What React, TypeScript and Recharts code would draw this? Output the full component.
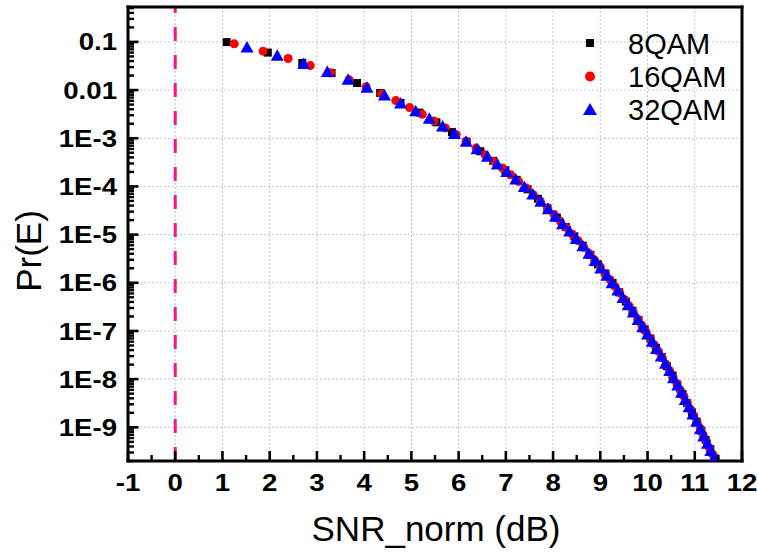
import { ScatterChart, Scatter, XAxis, YAxis, ReferenceLine, Legend } from "recharts";

const FONT = "Arial, 'Liberation Sans', Helvetica, sans-serif";

// 8QAM (black squares)
const snr8 = [
  1.09, 1.96, 2.69, 3.31, 3.85, 4.34, 4.77, 5.17, 5.53, 5.86,
  6.17, 6.46, 6.73, 6.99, 7.23, 7.46, 7.68, 7.88, 8.08, 8.27,
  8.45, 8.63, 8.79, 8.95, 9.11, 9.26, 9.4, 9.54, 9.68, 9.81,
  9.94, 10.06, 10.18, 10.3, 10.41, 10.53, 10.63, 10.74, 10.84, 10.94,
  11.04, 11.14, 11.23, 11.33, 11.42,
];
const pe8 = [
  0.099, 0.06, 0.0367, 0.0225, 0.014, 0.00868, 0.00542, 0.0034, 0.00214, 0.00134,
  8.5e-4, 5.37e-4, 3.4e-4, 2.16e-4, 1.37e-4, 8.7e-5, 5.55e-5, 3.54e-5, 2.26e-5, 1.44e-5,
  9.2e-6, 5.89e-6, 3.77e-6, 2.41e-6, 1.55e-6, 9.9e-7, 6.35e-7, 4.08e-7, 2.62e-7, 1.68e-7,
  1.08e-7, 6.94e-8, 4.46e-8, 2.87e-8, 1.85e-8, 1.19e-8, 7.65e-9, 4.93e-9, 3.17e-9, 2.04e-9,
  1.32e-9, 8.5e-10, 5.47e-10, 3.53e-10, 2.28e-10,
];

// 16QAM (red circles)
const snr16 = [
  1.25, 1.86, 2.39, 2.86, 3.29, 3.68, 4.04, 4.37, 4.67, 4.96,
  5.23, 5.48, 5.72, 5.95, 6.16, 6.37, 6.56, 6.75, 6.93, 7.1,
  7.27, 7.43, 7.58, 7.73, 7.88, 8.02, 8.15, 8.28, 8.41, 8.53,
  8.65, 8.77, 8.88, 9.0, 9.1, 9.21, 9.31, 9.41, 9.51, 9.61,
  9.7, 9.79, 9.88, 9.97, 10.06, 10.14, 10.23, 10.31, 10.39, 10.47,
  10.54, 10.62, 10.69, 10.77, 10.84, 10.91, 10.98, 11.05, 11.12, 11.18,
  11.25, 11.31, 11.38, 11.44,
];
const pe16 = [
  0.0912, 0.0642, 0.0453, 0.0322, 0.0229, 0.0164, 0.0117, 0.0084, 0.00604, 0.00435,
  0.00314, 0.00227, 0.00164, 0.00119, 8.62e-4, 6.25e-4, 4.54e-4, 3.3e-4, 2.4e-4, 1.75e-4,
  1.27e-4, 9.26e-5, 6.75e-5, 4.92e-5, 3.59e-5, 2.62e-5, 1.91e-5, 1.4e-5, 1.02e-5, 7.47e-6,
  5.46e-6, 4.0e-6, 2.93e-6, 2.14e-6, 1.57e-6, 1.15e-6, 8.42e-7, 6.17e-7, 4.52e-7, 3.32e-7,
  2.43e-7, 1.78e-7, 1.31e-7, 9.59e-8, 7.04e-8, 5.17e-8, 3.8e-8, 2.79e-8, 2.05e-8, 1.5e-8,
  1.1e-8, 8.11e-9, 5.96e-9, 4.38e-9, 3.22e-9, 2.37e-9, 1.74e-9, 1.28e-9, 9.4e-10, 6.92e-10,
  5.09e-10, 3.74e-10, 2.75e-10, 2.02e-10,
];

// 32QAM (blue triangles)
const snr32 = [
  1.52, 2.16, 2.72, 3.22, 3.66, 4.06, 4.43, 4.77, 5.09, 5.38,
  5.66, 5.91, 6.16, 6.39, 6.61, 6.82, 7.02, 7.21, 7.39, 7.57,
  7.74, 7.9, 8.05, 8.2, 8.35, 8.49, 8.63, 8.76, 8.89, 9.01,
  9.14, 9.25, 9.37, 9.48, 9.59, 9.7, 9.8, 9.9, 10.0, 10.1,
  10.19, 10.29, 10.38, 10.47, 10.55, 10.64, 10.72, 10.8, 10.88, 10.96,
  11.04, 11.12, 11.19, 11.27, 11.34, 11.41,
];
const pe32 = [
  0.0784, 0.0528, 0.0358, 0.0244, 0.0167, 0.0114, 0.00786, 0.00542, 0.00374, 0.00259,
  0.0018, 0.00125, 8.68e-4, 6.04e-4, 4.21e-4, 2.93e-4, 2.05e-4, 1.43e-4, 1.0e-4, 7.0e-5,
  4.9e-5, 3.44e-5, 2.41e-5, 1.69e-5, 1.19e-5, 8.33e-6, 5.84e-6, 4.11e-6, 2.89e-6, 2.03e-6,
  1.43e-6, 1.0e-6, 7.07e-7, 4.98e-7, 3.51e-7, 2.47e-7, 1.74e-7, 1.23e-7, 8.66e-8, 6.11e-8,
  4.31e-8, 3.04e-8, 2.14e-8, 1.51e-8, 1.07e-8, 7.54e-9, 5.32e-9, 3.76e-9, 2.66e-9, 1.88e-9,
  1.33e-9, 9.37e-10, 6.63e-10, 4.68e-10, 3.31e-10, 2.34e-10,
];

const seriesNames = ["8QAM", "16QAM", "32QAM"];

const xMajor = [-1, 0, 1, 2, 3, 4, 5, 6, 7, 8, 9, 10, 11, 12];
const xTickLabels = ["-1", "0", "1", "2", "3", "4", "5", "6", "7", "8", "9", "10", "11", "12"];
const xMinor = xMajor.slice(0, -1).map((v) => v + 0.5);
const xGrid = [0, 1, 2, 3, 4, 5, 6, 7, 8, 9, 10, 11];

const yMajor = [1e-1, 1e-2, 1e-3, 1e-4, 1e-5, 1e-6, 1e-7, 1e-8, 1e-9];
const yTickLabels = ["0.1", "0.01", "1E-3", "1E-4", "1E-5", "1E-6", "1E-7", "1E-8", "1E-9"];
const yMin = 2e-10;
const yMax = 0.53;

const yMinor: number[] = [];
for (let e = -10; e <= -1; e++) {
  for (let k = 2; k <= 9; k++) {
    const v = k * Math.pow(10, e);
    if (v >= yMin && v <= yMax) yMinor.push(v);
  }
}

const toPoints = (xs: number[], ys: number[]) => xs.map((x, i) => ({ x, y: ys[i] }));
const data8 = toPoints(snr8, pe8);
const data16 = toPoints(snr16, pe16);
const data32 = toPoints(snr32, pe32);

// layout
const W = 757;
const H = 553;
const MARGIN = { top: 7, right: 15, bottom: 0, left: 0 };
const Y_AXIS_W = 128;
const X_AXIS_H = 92;
const plotL = MARGIN.left + Y_AXIS_W;
const plotT = MARGIN.top;
const plotW = W - MARGIN.right - plotL;
const plotH = H - MARGIN.bottom - X_AXIS_H - plotT;
// axis mapping used only for the inward tick marks of the overlay
const tickX = (v: number) => plotL + ((v + 1) / 13) * plotW;
const tickY = (v: number) => plotT + (Math.log10(yMax / v) / Math.log10(yMax / yMin)) * plotH;

const Square = (p: any) => <rect x={p.cx - 4} y={p.cy - 4} width={8} height={8} fill="#000" />;
const Dot = (p: any) => <circle cx={p.cx} cy={p.cy} r={4.5} fill="#ff0000" />;
const Tri = (p: any) => (
  <polygon
    points={`${p.cx},${p.cy - 6} ${p.cx + 6.5},${p.cy + 5.5} ${p.cx - 6.5},${p.cy + 5.5}`}
    fill="#0000ff"
  />
);

const XLabel = (props: any) => {
  const { x, y, payload } = props;
  const i = xMajor.indexOf(payload.value);
  return (
    <text
      transform={`translate(${x},${y + 29.5}) scale(1.15,1)`}
      textAnchor="middle"
      fontSize={24}
      fontWeight="bold"
      fontFamily={FONT}
      fill="#000"
    >
      {xTickLabels[i]}
    </text>
  );
};

const YLabel = (props: any) => {
  const { x, y, payload } = props;
  const i = yMajor.indexOf(payload.value);
  return (
    <text
      transform={`translate(${x - 11},${y + 8.6}) scale(1.15,1)`}
      textAnchor="end"
      fontSize={24}
      fontWeight="bold"
      fontFamily={FONT}
      fill="#000"
    >
      {yTickLabels[i]}
    </text>
  );
};

const XTitle = () => (
  <text x={436} y={541} textAnchor="middle" fontSize={35} fontFamily={FONT} fill="#000">
    SNR_norm (dB)
  </text>
);

const YTitle = () => (
  <text
    x={41}
    y={251}
    transform="rotate(-90 41 251)"
    textAnchor="middle"
    fontSize={35}
    fontFamily={FONT}
    fill="#000"
  >
    Pr(E)
  </text>
);

// legend plus inward tick marks, drawn as an overlay
const Overlay = () => {
  const bottom = plotT + plotH;
  return (
    <svg width={W} height={H} style={{ display: "block", pointerEvents: "none" }}>
      {xMajor.map((v) => (
        <rect key={`tx${v}`} x={tickX(v) - 1.3} y={bottom - 10} width={2.6} height={10} fill="#000" />
      ))}
      {xMinor.map((v) => (
        <rect key={`mx${v}`} x={tickX(v) - 1.2} y={bottom - 6} width={2.4} height={6} fill="#000" />
      ))}
      {yMajor.map((v) => (
        <rect key={`ty${v}`} x={plotL} y={tickY(v) - 1.3} width={10.5} height={2.6} fill="#000" />
      ))}
      {yMinor.map((v) => (
        <rect key={`my${v}`} x={plotL} y={tickY(v) - 1.2} width={6} height={2.4} fill="#000" />
      ))}
      <g transform="translate(560,20)">
        <rect x={26} y={19} width={8} height={8} fill="#000" />
        <circle cx={30} cy={56.5} r={5} fill="#ff0000" />
        <polygon points="30,83 37,95 23,95" fill="#0000ff" />
        {seriesNames.map((n, i) => (
          <text key={n} x={68} y={[23, 56.5, 89.5][i] + 10.5} fontSize={29} fontFamily={FONT} fill="#000">
            {n}
          </text>
        ))}
      </g>
    </svg>
  );
};

const gridStyle = { stroke: "#c4c4c4", strokeWidth: 1, strokeDasharray: "2 2" };
const frameStyle = { stroke: "#000", strokeWidth: 3, strokeLinecap: "square" as const };

export default function App() {
  return (
    <div style={{ position: "absolute", left: 0, top: 0, width: W, height: H, background: "#fff" }}>
      <ScatterChart width={W} height={H} margin={MARGIN}>
        <XAxis
          type="number"
          dataKey="x"
          domain={[-1, 12]}
          ticks={xMajor}
          interval={0}
          tickSize={0}
          tickMargin={0}
          tickLine={false}
          axisLine={false}
          tick={<XLabel />}
          height={X_AXIS_H}
          allowDataOverflow
          label={XTitle}
        />
        <YAxis
          type="number"
          dataKey="y"
          scale="log"
          domain={[yMin, yMax]}
          ticks={yMajor}
          interval={0}
          tickSize={0}
          tickMargin={0}
          tickLine={false}
          axisLine={false}
          tick={<YLabel />}
          width={Y_AXIS_W}
          allowDataOverflow
          label={YTitle}
        />

        {/* dotted grid */}
        {xGrid.map((v) => (
          <ReferenceLine key={`gx${v}`} x={v} ifOverflow="visible" {...gridStyle} />
        ))}
        {yMajor.map((v) => (
          <ReferenceLine key={`gy${v}`} y={v} ifOverflow="visible" {...gridStyle} />
        ))}

        <ReferenceLine
          segment={[
            { x: 0, y: yMin },
            { x: 0, y: yMax },
          ]}
          ifOverflow="visible"
          stroke="#f5148c"
          strokeWidth={3}
          strokeDasharray="14 14"
        />

        <Scatter name={seriesNames[0]} data={data8} shape={Square} isAnimationActive={false} />
        <Scatter name={seriesNames[1]} data={data16} shape={Dot} isAnimationActive={false} />
        <Scatter name={seriesNames[2]} data={data32} shape={Tri} isAnimationActive={false} />

        {/* frame */}
        <ReferenceLine x={-1} ifOverflow="visible" {...frameStyle} />
        <ReferenceLine x={12} ifOverflow="visible" {...frameStyle} />
        <ReferenceLine y={yMin} ifOverflow="visible" {...frameStyle} />
        <ReferenceLine y={yMax} ifOverflow="visible" {...frameStyle} />

        <Legend
          layout="vertical"
          align="center"
          verticalAlign="middle"
          wrapperStyle={{ position: "absolute", left: 0, top: 0, width: W, height: H, pointerEvents: "none" }}
          content={() => <Overlay />}
        />
      </ScatterChart>
    </div>
  );
}
